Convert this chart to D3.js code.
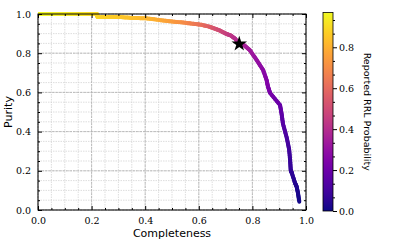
<!DOCTYPE html>
<html>
<head>
<meta charset="utf-8">
<script src="https://cdn.jsdelivr.net/npm/d3@7"></script>
<style>
  body { margin: 0; background: #fff; }
  .tick text { font-family: "DejaVu Serif", serif; font-size: 9.5px; fill: #000; }
</style>
</head>
<body>
<div id="chart"></div>
<script>
// completeness / purity curve, coloured by probability threshold
var completeness = [0.000, 0.220, 0.222, 0.300, 0.350, 0.400, 0.450, 0.500, 0.550, 0.580, 0.610,
    0.640, 0.660, 0.680, 0.700, 0.720, 0.735, 0.751, 0.770, 0.790, 0.816, 0.840, 0.853, 0.858,
    0.866, 0.903, 0.909, 0.914, 0.928, 0.937, 0.941, 0.943, 0.947, 0.959, 0.965, 0.970, 0.975];
var purity = [1.000, 1.000, 0.985, 0.985, 0.980, 0.978, 0.970, 0.962, 0.955, 0.950, 0.945,
    0.935, 0.925, 0.915, 0.900, 0.890, 0.875, 0.847, 0.840, 0.816, 0.765, 0.714, 0.663, 0.630,
    0.597, 0.536, 0.490, 0.440, 0.370, 0.310, 0.250, 0.204, 0.189, 0.138, 0.120, 0.087, 0.042];
var threshold = [0.97, 0.90, 0.89, 0.86, 0.84, 0.82, 0.79, 0.75, 0.70, 0.66, 0.62,
    0.57, 0.53, 0.50, 0.47, 0.44, 0.41, 0.38, 0.36, 0.34, 0.31, 0.28, 0.26, 0.25,
    0.23, 0.19, 0.17, 0.15, 0.12, 0.10, 0.08, 0.07, 0.06, 0.04, 0.03, 0.02, 0.01];
var starPoint = [0.751, 0.847];
var majorTicks = [0, 0.2, 0.4, 0.6, 0.8, 1.0];
var cbarTicks = [0, 0.2, 0.4, 0.6, 0.8];
var cbarMax = 0.97;

var width = 415, height = 249;
var pLeft = 38, pRight = 306, pTop = 14, pBottom = 210;

var x = d3.scaleLinear().domain([0, 1]).range([pLeft, pRight]);
var y = d3.scaleLinear().domain([0, 1]).range([pBottom, pTop]);
var color = d3.scaleSequential(d3.interpolatePlasma).domain([0, cbarMax]);

var svg = d3.select("#chart").append("svg")
    .attr("width", width)
    .attr("height", height);

// grid: minor then major
var minor = d3.range(0, 1.0001, 0.05);
var grid = svg.append("g");
minor.forEach(function(v) {
    grid.append("line")
        .attr("x1", x(v)).attr("x2", x(v)).attr("y1", pTop).attr("y2", pBottom)
        .attr("stroke", "#d0d0d0").attr("stroke-width", 0.7).attr("stroke-dasharray", "1.5,1");
    grid.append("line")
        .attr("y1", y(v)).attr("y2", y(v)).attr("x1", pLeft).attr("x2", pRight)
        .attr("stroke", "#d0d0d0").attr("stroke-width", 0.7).attr("stroke-dasharray", "1.5,1");
});
majorTicks.forEach(function(v) {
    grid.append("line")
        .attr("x1", x(v)).attr("x2", x(v)).attr("y1", pTop).attr("y2", pBottom)
        .attr("stroke", "#b0b0b0").attr("stroke-width", 0.8).attr("stroke-dasharray", "2.5,1");
    grid.append("line")
        .attr("y1", y(v)).attr("y2", y(v)).attr("x1", pLeft).attr("x2", pRight)
        .attr("stroke", "#b0b0b0").attr("stroke-width", 0.8).attr("stroke-dasharray", "2.5,1");
});

// the curve as coloured segments
var pts = completeness.map(function(c, i) { return { c: c, p: purity[i], t: threshold[i] }; });
svg.append("clipPath").attr("id", "clip")
    .append("rect").attr("x", pLeft).attr("y", pTop - 2).attr("width", pRight - pLeft).attr("height", pBottom - pTop + 2);
var curve = svg.append("g").attr("clip-path", "url(#clip)");
for (var i = 0; i < pts.length - 1; i++) {
    var a = pts[i], b = pts[i + 1];
    var n = 6;
    for (var k = 0; k < n; k++) {
        var f0 = k / n, f1 = (k + 1) / n;
        curve.append("line")
            .attr("x1", x(a.c + (b.c - a.c) * f0)).attr("y1", y(a.p + (b.p - a.p) * f0))
            .attr("x2", x(a.c + (b.c - a.c) * f1)).attr("y2", y(a.p + (b.p - a.p) * f1))
            .attr("stroke", color(a.t + (b.t - a.t) * (f0 + f1) / 2))
            .attr("stroke-width", 4)
            .attr("stroke-linecap", "round");
    }
}

// star
svg.append("path")
    .attr("d", d3.symbol().type(d3.symbolStar).size(75))
    .attr("transform", "translate(" + x(starPoint[0]) + "," + y(starPoint[1]) + ")")
    .attr("fill", "#000");

// axes, ticks inward on all sides
function fmt(d) { return d3.format(".1f")(d); }
var minorVals = minor.filter(function(v) { return majorTicks.indexOf(+v.toFixed(2)) < 0; });

function addAxis(axisFn, scale, tx, ty, labels) {
    var g = svg.append("g").attr("transform", "translate(" + tx + "," + ty + ")");
    g.call(axisFn(scale).tickValues(majorTicks).tickSizeInner(-4).tickSizeOuter(0)
        .tickPadding(labels ? 7 : 0).tickFormat(labels ? fmt : ""));
    g.select(".domain").remove();
    var gm = svg.append("g").attr("transform", "translate(" + tx + "," + ty + ")");
    gm.call(axisFn(scale).tickValues(minorVals).tickSizeInner(-2).tickSizeOuter(0).tickFormat(""));
    gm.select(".domain").remove();
    return g;
}
addAxis(d3.axisBottom, x, 0, pBottom, true);
addAxis(d3.axisTop, x, 0, pTop, false);
addAxis(d3.axisLeft, y, pLeft, 0, true);
addAxis(d3.axisRight, y, pRight, 0, false);

svg.append("rect")
    .attr("x", pLeft).attr("y", pTop).attr("width", pRight - pLeft).attr("height", pBottom - pTop)
    .attr("fill", "none").attr("stroke", "#000").attr("stroke-width", 1);

svg.append("text")
    .attr("x", (pLeft + pRight) / 2).attr("y", 237)
    .attr("text-anchor", "middle")
    .style("font-family", "'DejaVu Sans', sans-serif").style("font-size", "11px")
    .text("Completeness");
svg.append("text")
    .attr("transform", "translate(12," + ((pTop + pBottom) / 2) + ") rotate(-90)")
    .attr("text-anchor", "middle")
    .style("font-family", "'DejaVu Sans', sans-serif").style("font-size", "11px")
    .text("Purity");

// colorbar
var cbX = 323, cbW = 10, cbTop = 12.5, cbBottom = 211;
var cy = d3.scaleLinear().domain([0, cbarMax]).range([cbBottom, cbTop]);
var grad = svg.append("defs").append("linearGradient")
    .attr("id", "cbar").attr("x1", 0).attr("y1", 1).attr("x2", 0).attr("y2", 0);
d3.range(0, 1.0001, 0.05).forEach(function(s) {
    grad.append("stop").attr("offset", s).attr("stop-color", color(s * cbarMax));
});
svg.append("rect")
    .attr("x", cbX).attr("y", cbTop).attr("width", cbW).attr("height", cbBottom - cbTop)
    .attr("fill", "url(#cbar)").attr("stroke", "#000").attr("stroke-width", 0.8);

var cbMinor = d3.range(0, cbarMax, 0.2 / 3).filter(function(v) {
    return Math.abs(v / 0.2 - Math.round(v / 0.2)) > 0.01;
});
var cg = svg.append("g").attr("transform", "translate(" + (cbX + cbW) + ",0)");
cg.call(d3.axisRight(cy).tickValues(cbarTicks).tickSizeInner(4).tickSizeOuter(0).tickPadding(2).tickFormat(fmt));
cg.select(".domain").remove();
var cgm = svg.append("g").attr("transform", "translate(" + (cbX + cbW) + ",0)");
cgm.call(d3.axisRight(cy).tickValues(cbMinor).tickSizeInner(2).tickSizeOuter(0).tickFormat(""));
cgm.select(".domain").remove();

svg.append("text")
    .attr("transform", "translate(364," + ((cbTop + cbBottom) / 2) + ") rotate(90)")
    .attr("text-anchor", "middle")
    .style("font-family", "'DejaVu Sans', sans-serif").style("font-size", "9.5px")
    .text("Reported RRL Probability");
</script>
</body>
</html>
